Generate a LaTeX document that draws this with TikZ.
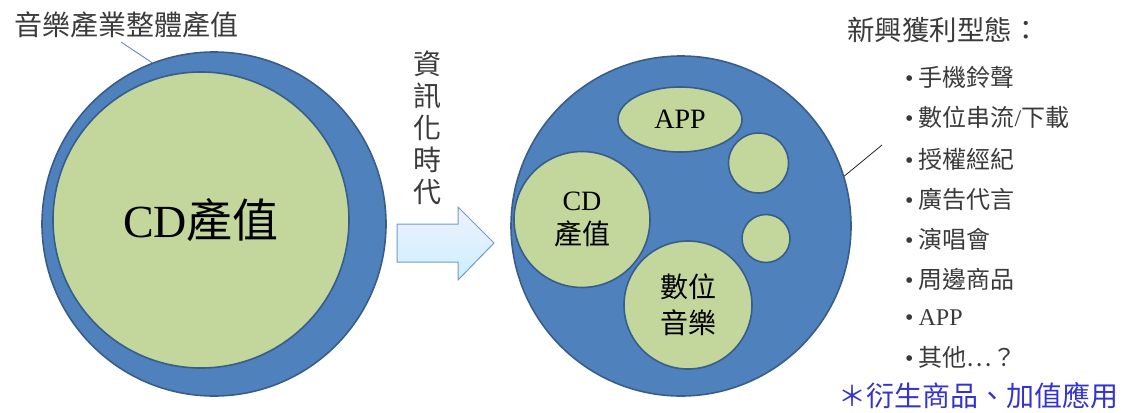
\documentclass[tikz,border=0pt]{standalone}
\usepackage{fontspec}
\setmainfont{Liberation Serif}
\newfontfamily\cjk{Noto Sans CJK TC}
\usetikzlibrary{shapes.geometric}
\definecolor{bfill}{HTML}{4F81BD}
\definecolor{bline}{HTML}{385D8A}
\definecolor{gfill}{HTML}{C3D69B}
\definecolor{txt}{HTML}{3A3A3A}
\definecolor{ablue}{RGB}{51,51,210}
\tikzset{
  outerc/.style={circle,fill=bfill,draw=bline,line width=1.6pt,inner sep=0pt},
  innerc/.style={circle,fill=gfill,draw=bline,line width=1.6pt,inner sep=0pt,align=center,text=black},
  lbl/.style={text=txt,inner sep=0pt},
  item/.style={lbl,anchor=west,font=\fontsize{24}{28}\selectfont},
}
\begin{document}
\begin{tikzpicture}[x=1pt,y=-1pt]
\useasboundingbox (0,0) rectangle (1131,412);
% left
\node[outerc,minimum size=344pt] (outerL) at (214,224) {};
\node[innerc,minimum size=296pt,font=\fontsize{46}{50}\selectfont] (cdL) at (201,220) {CD{\cjk 產值}};
\node[lbl,font=\fontsize{28}{32}\selectfont\cjk] (title) at (126,25) {音樂產業整體產值};
\coordinate (t1) at (121,42);
\draw[color=bfill!80!gray,line width=0.8pt] (t1) -- (outerL.111);
% arrow
\shade[top color=blue!6!white,bottom color=blue!30!cyan!20!white,draw=bfill!80!white,line width=1pt]
  (397,224) -- (458,224) -- (458,207) -- (494,243) -- (458,280) -- (458,262) -- (397,262) -- cycle;
\node[lbl,align=center,font=\fontsize{28}{32}\selectfont\cjk] (era) at (427,128) {資\\訊\\化\\時\\代};
% right
\node[outerc,minimum size=340pt] (outerR) at (681,226) {};
\node[innerc,ellipse,minimum width=124pt,minimum height=65pt,font=\fontsize{28}{32}\selectfont] (app) at (680,119.5) {APP};
\node[innerc,minimum size=60pt] (s1) at (758.5,163) {};
\node[innerc,minimum size=48pt] (s2) at (766,238.5) {};
\node[innerc,minimum size=136pt,font=\fontsize{28}{34}\selectfont] (cdR) at (582,219.5) {CD\\{\cjk 產值}};
\node[innerc,minimum size=128pt,font=\fontsize{28}{36}\selectfont\cjk] (dig) at (688,305) {數位\\音樂};
% list
\node[lbl,anchor=west,font=\fontsize{27.5}{30}\selectfont\cjk] (head) at (847,30) {新興獲利型態：};
\coordinate (t2) at (882,145);
\draw[black!85,line width=0.8pt] (outerR.17) -- (t2);
\node[item] (i1) at (905,77) {\textbullet\hspace{5pt}{\cjk 手機鈴聲}};
\node[item] (i2) at (905,117) {\textbullet\hspace{5pt}{\cjk 數位串流}/{\cjk 下載}};
\node[item] (i3) at (905,159) {\textbullet\hspace{5pt}{\cjk 授權經紀}};
\node[item] (i4) at (905,199) {\textbullet\hspace{5pt}{\cjk 廣告代言}};
\node[item] (i5) at (905,239) {\textbullet\hspace{5pt}{\cjk 演唱會}};
\node[item] (i6) at (905,279) {\textbullet\hspace{5pt}{\cjk 周邊商品}};
\node[item] (i7) at (905,318) {\textbullet\hspace{5pt}APP};
\node[item] (i8) at (905,357) {\textbullet\hspace{5pt}{\cjk 其他…？}};
\node[lbl,anchor=west,text=ablue,font=\fontsize{28}{32}\selectfont\cjk] (note) at (838,396) {＊衍生商品、加值應用};
\end{tikzpicture}
\end{document}
